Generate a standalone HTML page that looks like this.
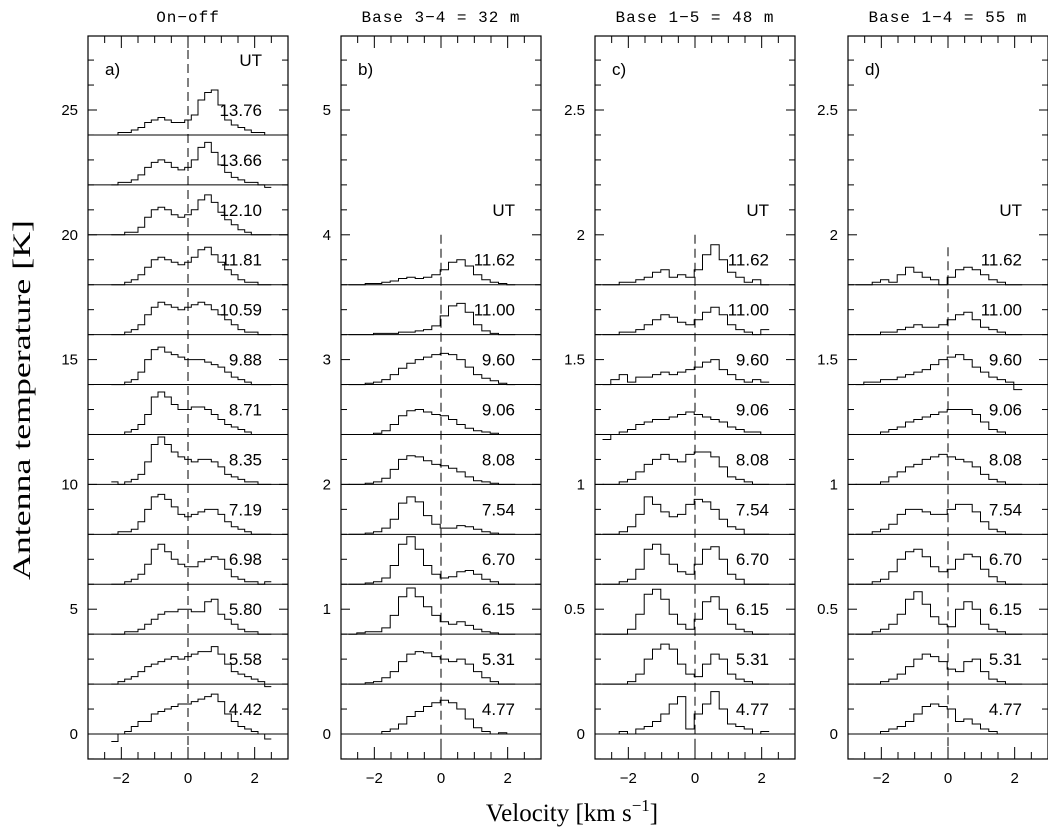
<!DOCTYPE html>
<html><head><meta charset="utf-8"><style>
html,body{margin:0;padding:0;background:#fff;}
svg{display:block;}
text{fill:#000;}
.tk{font-family:"Liberation Sans",sans-serif;font-size:15px;}
.ttl{font-family:"Liberation Mono",monospace;font-size:16px;letter-spacing:1px;}
.lab{font-family:"Liberation Serif",serif;font-size:25px;}
.sl{font-family:"Liberation Sans",sans-serif;font-size:17px;}
</style></head><body>
<svg id="chart" width="1048" height="828" viewBox="0 0 1048 828" xmlns="http://www.w3.org/2000/svg"></svg>
<script>
const panelTitles = ["On\u2212off","Base 3\u22124 = 32 m","Base 1\u22125 = 48 m","Base 1\u22124 = 55 m"];
const panelLetters = ["a)","b)","c)","d)"];
const yTickLabelsA = ["0","5","10","15","20","25"];
const yTickValuesA = [0,5,10,15,20,25];
const yTickLabelsB = ["0","1","2","3","4","5"];
const yTickValuesB = [0,1,2,3,4,5];
const yTickLabelsC = ["0","0.5","1","1.5","2","2.5"];
const yTickValuesC = [0,0.5,1,1.5,2,2.5];
const xTickValues = [-2,0,2];
const xTickLabels = ["\u22122","0","2"];
const utA = ["4.42","5.58","5.80","6.98","7.19","8.35","8.71","9.88","10.59","11.81","12.10","13.66","13.76"];
const utB = ["4.77","5.31","6.15","6.70","7.54","8.08","9.06","9.60","11.00","11.62"];
const offsetA = 2, offsetB = 0.4, offsetC = 0.2;
const specA = [
[-0.3,0.0,0.1,0.3,0.5,0.5,0.8,0.9,1.0,1.1,1.2,1.2,1.3,1.4,1.5,1.6,1.3,0.8,0.5,0.3,0.2,0.1,0.0,-0.2],
[0.0,0.1,0.2,0.3,0.5,0.7,0.8,0.9,1.0,1.1,1.0,1.1,1.2,1.3,1.3,1.5,1.2,0.8,0.5,0.4,0.3,0.2,0.1,-0.1],
[0.0,0.0,0.1,0.1,0.2,0.4,0.6,0.8,0.9,0.9,1.0,1.0,0.9,0.9,1.3,1.4,0.8,0.6,0.4,0.2,0.1,0.1,0.0,0.0],
[0.0,0.0,0.1,0.2,0.4,0.8,1.4,1.6,1.3,1.0,0.8,0.7,0.7,0.9,1.0,1.1,1.0,0.6,0.3,0.2,0.1,0.1,0.0,0.1],
[0.0,0.1,0.1,0.2,0.5,1.0,1.5,1.6,1.4,1.1,0.8,0.7,0.8,0.9,1.0,1.0,0.8,0.5,0.3,0.2,0.1,0.0,0.0,0.0],
[0.1,0.0,0.1,0.2,0.4,0.9,1.6,1.9,1.6,1.3,1.1,1.0,0.9,1.0,1.0,0.9,0.7,0.4,0.3,0.2,0.1,0.1,0.0,0.0],
[0.0,0.0,0.1,0.2,0.4,0.8,1.5,1.7,1.5,1.2,1.0,1.0,1.1,1.1,1.0,0.8,0.6,0.4,0.3,0.2,0.1,0.0,0.0,0.0],
[0.0,0.0,0.1,0.2,0.5,1.0,1.4,1.5,1.3,1.2,1.1,1.0,1.0,1.0,0.9,0.8,0.7,0.5,0.3,0.2,0.1,0.0,0.0,0.0],
[0.0,0.0,0.1,0.2,0.4,0.8,1.1,1.3,1.2,1.1,1.0,1.1,1.2,1.3,1.2,1.0,0.8,0.6,0.4,0.2,0.1,0.1,0.0,0.0],
[0.0,0.0,0.1,0.2,0.4,0.7,1.0,1.1,1.0,0.9,0.8,0.9,1.1,1.4,1.5,1.2,0.9,0.6,0.4,0.2,0.1,0.1,0.0,0.0],
[0.0,0.0,0.1,0.1,0.3,0.7,1.0,1.1,1.0,0.8,0.7,0.8,1.0,1.4,1.6,1.3,0.9,0.6,0.4,0.2,0.1,0.0,0.0,0.0],
[0.0,0.1,0.1,0.2,0.4,0.7,0.9,1.0,0.9,0.7,0.6,0.7,1.0,1.5,1.7,1.3,0.8,0.5,0.3,0.2,0.1,0.1,0.0,-0.1],
[0.0,0.1,0.1,0.2,0.3,0.5,0.6,0.7,0.6,0.5,0.5,0.6,0.8,1.4,1.7,1.8,1.2,0.6,0.4,0.3,0.2,0.1,0.1,0.0]];
const specB = [
[0,0,0,0,0.02,0.04,0.08,0.14,0.18,0.22,0.25,0.27,0.25,0.2,0.12,0.05,0.02,0,0.01,0],
[0,0,0.01,0.02,0.05,0.1,0.18,0.24,0.26,0.25,0.22,0.2,0.18,0.2,0.16,0.1,0.05,0.02,0,0],
[0,0.01,0.02,0.02,0.05,0.15,0.3,0.37,0.3,0.22,0.15,0.1,0.08,0.1,0.07,0.04,0.02,0.01,0,0],
[0,0,0.01,0.02,0.05,0.15,0.32,0.38,0.28,0.15,0.08,0.05,0.06,0.1,0.11,0.08,0.04,0.02,0,0],
[0,0,0.01,0.02,0.05,0.12,0.25,0.3,0.26,0.15,0.08,0.05,0.05,0.07,0.06,0.04,0.02,0.01,0,0],
[0,0,0.01,0.02,0.05,0.12,0.2,0.23,0.22,0.19,0.16,0.15,0.13,0.1,0.06,0.03,0.02,0.01,0,0],
[0,0,0,0.01,0.03,0.08,0.15,0.19,0.2,0.18,0.16,0.15,0.12,0.08,0.05,0.03,0.02,0.01,0,0],
[0,0,0.01,0.02,0.04,0.08,0.13,0.17,0.2,0.22,0.24,0.25,0.24,0.2,0.14,0.08,0.05,0.03,0.01,0],
[0,0,0,0.01,0.01,0.01,0.02,0.02,0.03,0.04,0.07,0.15,0.23,0.25,0.18,0.08,0.03,0.01,0,0],
[0,0,0.01,0.01,0.02,0.03,0.05,0.06,0.05,0.06,0.08,0.12,0.18,0.2,0.15,0.08,0.04,0.02,0.01,0]];
const specC = [
[0,0,0.01,0,0.02,0.03,0.05,0.08,0.12,0.15,0.02,0.08,0.12,0.17,0.1,0.04,0.03,0.02,0,0.01],
[0,0,0,0.01,0.04,0.1,0.14,0.16,0.14,0.08,0.04,0.03,0.08,0.12,0.1,0.04,0.02,0.01,0,0],
[0,0,0,0.02,0.08,0.16,0.18,0.14,0.08,0.04,0.02,0.06,0.13,0.15,0.1,0.04,0.02,0.01,0,0],
[0,0,0.01,0.02,0.06,0.14,0.16,0.12,0.08,0.05,0.04,0.08,0.14,0.15,0.1,0.04,0.02,0,0,0],
[0,0,0.01,0.03,0.08,0.15,0.12,0.09,0.07,0.08,0.12,0.14,0.13,0.1,0.06,0.03,0.02,0,0,0],
[0,0,0.01,0.02,0.05,0.08,0.1,0.12,0.1,0.09,0.12,0.13,0.13,0.11,0.07,0.03,0.02,0.01,0,0],
[-0.02,0,0.01,0.02,0.04,0.05,0.06,0.06,0.07,0.08,0.09,0.08,0.07,0.06,0.05,0.03,0.02,0.01,0.01,0],
[0,0.02,0.04,0.01,0.03,0.03,0.04,0.05,0.04,0.05,0.06,0.07,0.09,0.1,0.06,0.04,0.02,0.01,0.02,0.01],
[0,0,0.01,0.01,0.02,0.04,0.06,0.08,0.07,0.05,0.04,0.06,0.09,0.11,0.08,0.04,0.02,0.01,0,0.02],
[0,0,0.01,0.01,0.02,0.03,0.05,0.06,0.03,0.04,0.03,0.06,0.12,0.16,0.1,0.05,0.03,0.01,0.02,0]];
const specD = [
[0,0,0,0.01,0.02,0.03,0.05,0.08,0.11,0.12,0.11,0.1,0.05,0.06,0.04,0.02,0.01,0,0,0],
[0,0,0,0.01,0.02,0.04,0.07,0.1,0.12,0.11,0.09,0.06,0.05,0.09,0.1,0.05,0.02,0.01,0,0],
[0,0,0.01,0.02,0.04,0.08,0.14,0.17,0.12,0.07,0.04,0.03,0.1,0.13,0.1,0.04,0.02,0.01,0,0],
[0,0,0.01,0.02,0.05,0.1,0.13,0.14,0.11,0.07,0.05,0.06,0.1,0.12,0.11,0.06,0.03,0.01,0,0],
[0,0,0.01,0.02,0.04,0.08,0.1,0.1,0.09,0.08,0.08,0.1,0.12,0.12,0.09,0.05,0.02,0.01,0,0],
[0,0,0,0.01,0.03,0.05,0.07,0.08,0.1,0.11,0.12,0.11,0.1,0.09,0.07,0.04,0.02,0.01,0,0],
[0,0,0,0.01,0.02,0.03,0.05,0.06,0.07,0.08,0.09,0.1,0.1,0.1,0.08,0.05,0.02,0.01,0,0],
[0,0.01,0.01,0.02,0.02,0.03,0.04,0.05,0.06,0.08,0.1,0.11,0.12,0.1,0.07,0.05,0.03,0.02,0.01,-0.02],
[0,0,0,0.01,0.01,0.02,0.03,0.04,0.03,0.03,0.04,0.06,0.08,0.09,0.06,0.03,0.02,0.01,0,0],
[0,0,0.01,0.02,0.01,0.04,0.07,0.05,0.03,0.02,0.0,0.03,0.06,0.07,0.06,0.04,0.02,0.01,0,0]];

const NS="http://www.w3.org/2000/svg";
const svg=document.getElementById('chart');
function mk(tag,attrs,parent){const e=document.createElementNS(NS,tag);for(const k in attrs)e.setAttribute(k,attrs[k]);(parent||svg).appendChild(e);return e;}
const topY=36,botY=759,y0=734,W=200;
const defs=mk('defs',{});
const panels=[
 {left:88,ymax:25,ticks:yTickValuesA,labels:yTickLabelsA,spec:specA,ut:utA,off:offsetA,v0:-2.2,dv:0.2,dashTop:null,minor:1},
 {left:341,ymax:5,ticks:yTickValuesB,labels:yTickLabelsB,spec:specB,ut:utB,off:offsetB,v0:-2.65,dv:0.25,dashTop:4.0,minor:0.2},
 {left:595,ymax:2.5,ticks:yTickValuesC,labels:yTickLabelsC,spec:specC,ut:utB,off:offsetC,v0:-2.65,dv:0.25,dashTop:2.0,minor:0.1},
 {left:848,ymax:2.5,ticks:yTickValuesC,labels:yTickLabelsC,spec:specD,ut:utB,off:offsetC,v0:-2.65,dv:0.25,dashTop:1.95,minor:0.1}];
panels.forEach((p,pi)=>{
 const cp=mk('clipPath',{id:'clip'+pi},defs);mk('rect',{x:p.left,y:topY,width:W,height:botY-topY},cp);
 const g=mk('g',{});
 
 
 const xs=v=>p.left+(v+3)/6*W;
 const ys=t=>y0-t/p.ymax*624;
 const tt=mk('text',{x:xs(0),y:22,'text-anchor':'middle',class:'ttl'},g);tt.textContent=panelTitles[pi];
 
 
 const fr=mk('rect',{x:p.left,y:topY,width:W,height:botY-topY,fill:'none',stroke:'#000','stroke-width':1.2},g);
 
 
 const nMin=Math.round(p.ymax*1.1/p.minor);
 for(let k=-1;k<=nMin;k++){const v=k*p.minor;const y=ys(v);if(y<topY||y>botY)continue;
  const major=p.ticks.some(t=>Math.abs(t-v)<1e-6);const L=major?9:6;
  mk('line',{x1:p.left,x2:p.left+L,y1:y,y2:y,stroke:'#000'},g);mk('line',{x1:p.left+W-L,x2:p.left+W,y1:y,y2:y,stroke:'#000'},g);}
 p.ticks.forEach((t,i)=>{const e=mk('text',{x:p.left-10,y:ys(t)+5,'text-anchor':'end',class:'tk'},g);e.textContent=p.labels[i];
  
  });
 for(let k=0;k<=12;k++){const v=-3+k*0.5;const x=xs(v);const major=(k%4===2);const L=major?12:7;
  mk('line',{x1:x,x2:x,y1:botY,y2:botY-L,stroke:'#000'},g);mk('line',{x1:x,x2:x,y1:topY,y2:topY+L,stroke:'#000'},g);}
 xTickValues.forEach((v,i)=>{const e=mk('text',{x:xs(v),y:783,'text-anchor':'middle',class:'tk'},g);e.textContent=xTickLabels[i];
  
  });
 const dl=mk('line',{x1:xs(0),x2:xs(0),y1:p.dashTop===null?topY:ys(p.dashTop),y2:botY,stroke:'#000','stroke-dasharray':'9,5'},g);
 
 
 const lt=mk('text',{x:p.left+17,y:75,class:'sl','font-size':'19'},g);lt.textContent=panelLetters[pi];
 
 
 const n=p.spec.length;
 const utl=mk('text',{x:p.left+W-26,y:ys(n*p.off)-25+6,'text-anchor':'end',class:'sl'},g);utl.textContent='UT';
 
 
 const sg=mk('g',{'clip-path':'url(#clip'+pi+')'},g);
 p.spec.forEach((s,si)=>{const base=si*p.off;
  const bl=mk('line',{x1:p.left,x2:p.left+W,y1:ys(base),y2:ys(base),stroke:'#000'},g);
  
  
  let d='';s.forEach((t,i)=>{const vl=p.v0+i*p.dv-p.dv/2,vr=vl+p.dv;const y=ys(base+t);
   d+=(i===0?'M':'L')+xs(vl).toFixed(1)+','+y.toFixed(1)+'H'+xs(vr).toFixed(1);});
  const pa=mk('path',{d:d,fill:'none',stroke:'#000','stroke-width':1},sg);
  
  
  const tl=mk('text',{x:p.left+W-26,y:ys(base)-25+6,'text-anchor':'end',class:'sl'},g);tl.textContent=p.ut[si];
  
  
 });
});
const yl=mk('text',{x:0,y:0,'text-anchor':'middle',class:'lab',textLength:360,lengthAdjust:'spacingAndGlyphs',transform:'translate(30,400) rotate(-90)'});yl.textContent='Antenna temperature [K]';


const xl=mk('text',{x:572,y:821,'text-anchor':'middle',class:'lab'});


xl.innerHTML='Velocity [km s<tspan dy="-10" font-size="17">\u22121</tspan><tspan dy="10">]</tspan>';
</script>
</body></html>
